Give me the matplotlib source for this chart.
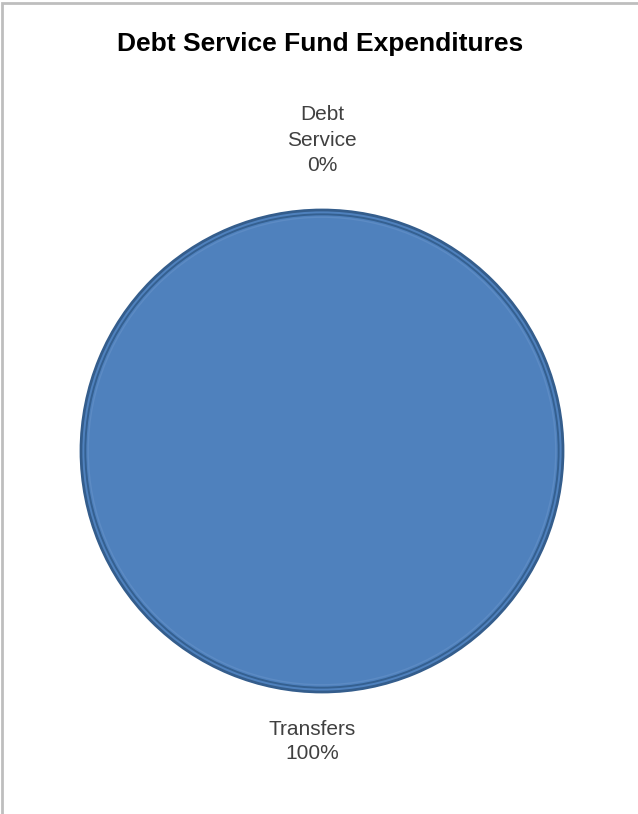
import matplotlib
matplotlib.use('Agg')
import matplotlib.pyplot as plt
from matplotlib.patches import Rectangle, Circle
from matplotlib import font_manager
import numpy as np

categories = ['Debt Service', 'Transfers']
amounts = [0.0, 100.0]
label_wraps = ['Debt\nService', 'Transfers']

FILL = '#4F81BD'
EDGE = '#345D8C'

names = {f.name for f in font_manager.fontManager.ttflist}
narrow = 'Liberation Sans Narrow' if 'Liberation Sans Narrow' in names else 'Liberation Sans'
plt.rcParams['font.family'] = [narrow, 'DejaVu Sans']

W, H = 638, 814
fig = plt.figure(figsize=(W / 100, H / 100), dpi=100)

# chart frame (only top and left edges fall inside the canvas)
fig.add_artist(Rectangle((1.5 / W, -0.1), 1.2, 1.1 - 3.5 / H, transform=fig.transFigure,
                         fill=False, edgecolor='#BEBEBE', linewidth=2))

fig.text(320 / W, 1 - 44 / H, 'Debt Service Fund Expenditures', ha='center', va='center',
         fontsize=19, fontweight='bold', color='black')

cx, cy, r = 322, 451, 241
ax = fig.add_axes([(cx - r) / W, (H - cy - r) / H, 2 * r / W, 2 * r / H])
wedges, _ = ax.pie(amounts, startangle=90, counterclock=False, radius=1,
                   colors=[FILL, FILL], wedgeprops=dict(edgecolor=EDGE, linewidth=2))
# bevel ring just inside the rim
ax.add_patch(Circle((0, 0), 0.982, fill=False, edgecolor='#2E5886', linewidth=1.4, alpha=0.8))
ax.add_patch(Circle((0, 0), 0.970, fill=False, edgecolor='#6A95CB', linewidth=1.0, alpha=0.5))
ax.set_xlim(-1, 1)
ax.set_ylim(-1, 1)
ax.axis('off')

total = sum(amounts)
label_dist = [1.29, 1.205]
label_dx = [0.0, -0.04]
for w, name, val, d, dx in zip(wedges, label_wraps, amounts, label_dist, label_dx):
    mid = np.deg2rad((w.theta1 + w.theta2) / 2)
    ax.text(d * np.cos(mid) + dx, d * np.sin(mid), f'{name}\n{val / total * 100:.0f}%',
            ha='center', va='center', fontsize=15, color='#404040', linespacing=1.3 if val else 1.45,
            clip_on=False)

fig.savefig('out.png', dpi=100)
